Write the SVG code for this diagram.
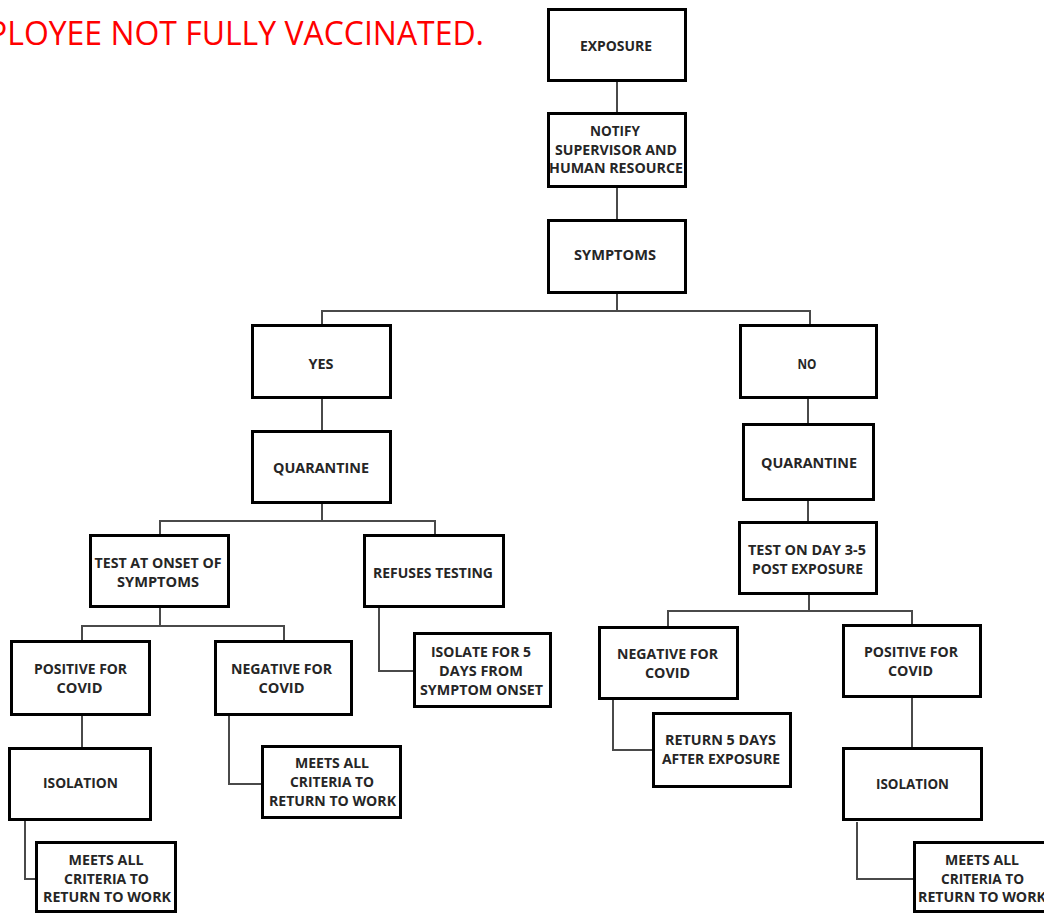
<svg xmlns="http://www.w3.org/2000/svg" width="1044" height="915" viewBox="0 0 1044 915">
<style>
.box{fill:#fff;stroke:#000;stroke-width:3}
.lbl{font-family:"Open Sans","Liberation Sans",sans-serif;font-weight:700;font-size:14.5px;fill:#262626;text-anchor:middle}
.con{fill:none;stroke:#4a4a4a;stroke-width:2}
.title{font-family:"Open Sans","Liberation Sans",sans-serif;font-size:32px;fill:#ff0000}
</style>
<rect width="1044" height="915" fill="#fff"/>
<text class="title" x="-12" y="45" textLength="496" lengthAdjust="spacingAndGlyphs">PLOYEE NOT FULLY VACCINATED.</text>
<g id="connectors">
<path class="con" d="M617 82V112"/>
<path class="con" d="M617 188V219"/>
<path class="con" d="M617 294V311M322 324V311H810V324"/>
<path class="con" d="M322 399V430"/>
<path class="con" d="M808 399V423"/>
<path class="con" d="M322 504V521M160 534V521H435V534"/>
<path class="con" d="M808 501V521"/>
<path class="con" d="M160 608V626M82 640V626H284V640"/>
<path class="con" d="M379 608V671H413"/>
<path class="con" d="M809 595V611M668 626V611H912V624"/>
<path class="con" d="M82 716V747"/>
<path class="con" d="M229 716V784H261"/>
<path class="con" d="M25 821V879H35"/>
<path class="con" d="M613 700V750H652"/>
<path class="con" d="M912 698V747"/>
<path class="con" d="M857 822V879H913"/>
</g>
<g id="exposure"><rect class="box" x="548.5" y="9.5" width="137" height="71"/><text class="lbl" x="616" y="51" textLength="72" lengthAdjust="spacingAndGlyphs">EXPOSURE</text></g>
<g id="notify"><rect class="box" x="548.5" y="113.5" width="137" height="73"/><text class="lbl" x="615" y="136" textLength="50" lengthAdjust="spacingAndGlyphs">NOTIFY</text><text class="lbl" x="616" y="155" textLength="122" lengthAdjust="spacingAndGlyphs">SUPERVISOR AND</text><text class="lbl" x="616" y="173" textLength="134" lengthAdjust="spacingAndGlyphs">HUMAN RESOURCE</text></g>
<g id="symptoms"><rect class="box" x="548.5" y="220.5" width="137" height="72"/><text class="lbl" x="615" y="260" textLength="82" lengthAdjust="spacingAndGlyphs">SYMPTOMS</text></g>
<g id="yes"><rect class="box" x="252.5" y="325.5" width="138" height="72"/><text class="lbl" x="321" y="369" textLength="25" lengthAdjust="spacingAndGlyphs">YES</text></g>
<g id="no"><rect class="box" x="740.5" y="325.5" width="136" height="72"/><text class="lbl" x="807" y="369" textLength="19" lengthAdjust="spacingAndGlyphs">NO</text></g>
<g id="quarantine-yes"><rect class="box" x="252.5" y="431.5" width="138" height="71"/><text class="lbl" x="321" y="473" textLength="96" lengthAdjust="spacingAndGlyphs">QUARANTINE</text></g>
<g id="quarantine-no"><rect class="box" x="743.5" y="424.5" width="130" height="75"/><text class="lbl" x="809" y="468" textLength="96" lengthAdjust="spacingAndGlyphs">QUARANTINE</text></g>
<g id="test-onset"><rect class="box" x="90.5" y="535.5" width="138" height="71"/><text class="lbl" x="158" y="568" textLength="127" lengthAdjust="spacingAndGlyphs">TEST AT ONSET OF</text><text class="lbl" x="158" y="587" textLength="82" lengthAdjust="spacingAndGlyphs">SYMPTOMS</text></g>
<g id="refuses"><rect class="box" x="364.5" y="535.5" width="139" height="71"/><text class="lbl" x="433" y="578" textLength="120" lengthAdjust="spacingAndGlyphs">REFUSES TESTING</text></g>
<g id="test-day"><rect class="box" x="739.5" y="522.5" width="137" height="71"/><text class="lbl" x="807" y="555" textLength="118" lengthAdjust="spacingAndGlyphs">TEST ON DAY 3-5</text><text class="lbl" x="807.5" y="574" textLength="111" lengthAdjust="spacingAndGlyphs">POST EXPOSURE</text></g>
<g id="positive-left"><rect class="box" x="11.5" y="641.5" width="138" height="73"/><text class="lbl" x="80.5" y="674" textLength="93" lengthAdjust="spacingAndGlyphs">POSITIVE FOR</text><text class="lbl" x="79.5" y="693" textLength="46" lengthAdjust="spacingAndGlyphs">COVID</text></g>
<g id="negative-left"><rect class="box" x="215.5" y="641.5" width="136" height="73"/><text class="lbl" x="281.5" y="674" textLength="101" lengthAdjust="spacingAndGlyphs">NEGATIVE FOR</text><text class="lbl" x="281.5" y="693" textLength="46" lengthAdjust="spacingAndGlyphs">COVID</text></g>
<g id="isolate-5"><rect class="box" x="414.5" y="633.5" width="136" height="73"/><text class="lbl" x="481" y="657" textLength="100" lengthAdjust="spacingAndGlyphs">ISOLATE FOR 5</text><text class="lbl" x="481" y="676" textLength="84" lengthAdjust="spacingAndGlyphs">DAYS FROM</text><text class="lbl" x="481.5" y="695" textLength="123" lengthAdjust="spacingAndGlyphs">SYMPTOM ONSET</text></g>
<g id="negative-right"><rect class="box" x="599.5" y="627.5" width="138" height="71"/><text class="lbl" x="667.5" y="659" textLength="101" lengthAdjust="spacingAndGlyphs">NEGATIVE FOR</text><text class="lbl" x="667.5" y="678" textLength="45" lengthAdjust="spacingAndGlyphs">COVID</text></g>
<g id="positive-right"><rect class="box" x="843.5" y="625.5" width="137" height="71"/><text class="lbl" x="911" y="657" textLength="94" lengthAdjust="spacingAndGlyphs">POSITIVE FOR</text><text class="lbl" x="910.5" y="676" textLength="45" lengthAdjust="spacingAndGlyphs">COVID</text></g>
<g id="isolation-left"><rect class="box" x="9.5" y="748.5" width="141" height="71"/><text class="lbl" x="80.5" y="788" textLength="75" lengthAdjust="spacingAndGlyphs">ISOLATION</text></g>
<g id="meets-mid"><rect class="box" x="262.5" y="746.5" width="138" height="71"/><text class="lbl" x="332" y="768" textLength="74" lengthAdjust="spacingAndGlyphs">MEETS ALL</text><text class="lbl" x="332" y="787" textLength="84" lengthAdjust="spacingAndGlyphs">CRITERIA TO</text><text class="lbl" x="332.5" y="806" textLength="127" lengthAdjust="spacingAndGlyphs">RETURN TO WORK</text></g>
<g id="return-5"><rect class="box" x="653.5" y="713.5" width="137" height="73"/><text class="lbl" x="720.5" y="745" textLength="111" lengthAdjust="spacingAndGlyphs">RETURN 5 DAYS</text><text class="lbl" x="721" y="764" textLength="118" lengthAdjust="spacingAndGlyphs">AFTER EXPOSURE</text></g>
<g id="isolation-right"><rect class="box" x="843.5" y="748.5" width="138" height="71"/><text class="lbl" x="912.5" y="789" textLength="73" lengthAdjust="spacingAndGlyphs">ISOLATION</text></g>
<g id="meets-left"><rect class="box" x="36.5" y="842.5" width="139" height="69"/><text class="lbl" x="106" y="865" textLength="75" lengthAdjust="spacingAndGlyphs">MEETS ALL</text><text class="lbl" x="106.5" y="884" textLength="85" lengthAdjust="spacingAndGlyphs">CRITERIA TO</text><text class="lbl" x="107" y="902" textLength="128" lengthAdjust="spacingAndGlyphs">RETURN TO WORK</text></g>
<g id="meets-right"><rect class="box" x="914.5" y="842.5" width="137" height="69"/><text class="lbl" x="982" y="865" textLength="74" lengthAdjust="spacingAndGlyphs">MEETS ALL</text><text class="lbl" x="982.5" y="884" textLength="83" lengthAdjust="spacingAndGlyphs">CRITERIA TO</text><text class="lbl" x="982" y="902" textLength="128" lengthAdjust="spacingAndGlyphs">RETURN TO WORK</text></g>
</svg>
